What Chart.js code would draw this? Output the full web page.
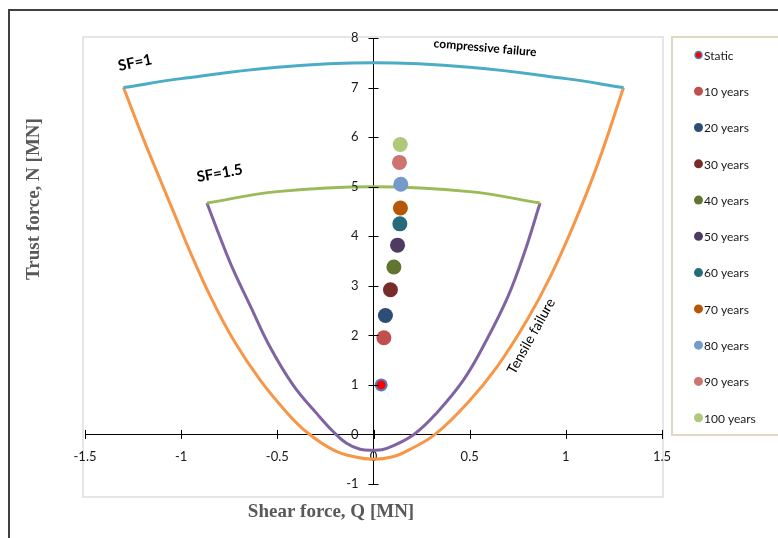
<!DOCTYPE html>
<html>
<head>
<meta charset="utf-8">
<script src="https://cdn.jsdelivr.net/npm/chart.js@4.4.1/dist/chart.umd.min.js"></script>
<style>
  html, body { margin: 0; padding: 0; background: #fff; overflow: hidden; }
  #wrap { width: 778px; height: 538px; }
</style>
</head>
<body>
<div id="wrap"><canvas id="chart" width="778" height="538"></canvas></div>
<script>
// Internal forces over time (shear Q, thrust N)
const seriesLabels = ['Static', '10 years', '20 years', '30 years', '40 years', '50 years',
                      '60 years', '70 years', '80 years', '90 years', '100 years'];
const seriesColors = ['#FF0000', '#C0504D', '#2C4D75', '#772C2A', '#5F7530', '#4D3B62',
                      '#276A7C', '#B65708', '#729ACA', '#CD7371', '#AFC97A'];
const shearQ  = [0.04, 0.054, 0.062, 0.088, 0.106, 0.125, 0.137, 0.14, 0.142, 0.135, 0.139];
const thrustN = [1.0, 1.95, 2.40, 2.92, 3.38, 3.82, 4.25, 4.57, 5.05, 5.49, 5.85];

// SF=1 envelope
const sf1CompQ = [-1.3, -1.0, -0.5, 0, 0.5, 1.0, 1.3];
const sf1CompN = [7.0, 7.18, 7.41, 7.5, 7.41, 7.18, 7.0];
const sf1TensQ = [-1.3, -1.2, -1.11, -1.03, -0.955, -0.85, -0.73, -0.59, -0.45, -0.345, -0.21, -0.1, 0,
                  0.1, 0.19, 0.32, 0.49, 0.645, 0.8, 0.92, 1.045, 1.167, 1.3];
const sf1TensN = [7.0, 6.0, 5.15, 4.4, 3.7, 2.8, 1.92, 1.1, 0.44, 0.04, -0.31, -0.45, -0.5,
                  -0.45, -0.3, 0, 0.64, 1.38, 2.32, 3.19, 4.27, 5.47, 7.0];

// SF=1.5 envelope
const sf15CompQ = [-0.866, -0.5, 0, 0.5, 0.866];
const sf15CompN = [4.67, 4.9, 5.0, 4.9, 4.67];
const sf15TensQ = [-0.866, -0.8, -0.73, -0.64, -0.54, -0.415, -0.29, -0.21, -0.14, -0.07, 0,
                   0.07, 0.21, 0.33, 0.47, 0.59, 0.7, 0.784, 0.866];
const sf15TensN = [4.67, 4.0, 3.33, 2.59, 1.78, 0.98, 0.4, 0.06, -0.18, -0.3, -0.32,
                   -0.28, 0, 0.44, 1.11, 1.92, 2.79, 3.66, 4.67];

const xTicks = [-1.5, -1, -0.5, 0, 0.5, 1, 1.5];
const yTicks = [-1, 0, 1, 2, 3, 4, 5, 6, 7, 8];

function toPoints(qs, ns) {
  return qs.map((q, i) => ({ x: q, y: ns[i] }));
}

function curve(label, qs, ns, color) {
  return {
    label: label,
    data: toPoints(qs, ns),
    showLine: true,
    borderColor: color,
    backgroundColor: color,
    borderWidth: 3,
    pointRadius: 0,
    pointHoverRadius: 0,
    tension: 0.4
  };
}

// one dataset per time step, drawn on top of the envelopes
const pointSets = seriesLabels.map((lab, i) => ({
  label: lab,
  data: [{ x: shearQ[i], y: thrustN[i] }],
  backgroundColor: seriesColors[i],
  borderColor: i === 0 ? '#4F81BD' : seriesColors[i],
  borderWidth: i === 0 ? 2 : 0,
  pointRadius: i === 0 ? 5.5 : 7.5
}));

const curveSets = [
  curve('SF=1 compressive', sf1CompQ, sf1CompN, '#4BACC6'),
  curve('SF=1 tensile', sf1TensQ, sf1TensN, '#F79646'),
  curve('SF=1.5 compressive', sf15CompQ, sf15CompN, '#9BBB59'),
  curve('SF=1.5 tensile', sf15TensQ, sf15TensN, '#8064A2')
];

const notes = [
  { text: 'SF=1', q: -1.24, n: 7.5, angle: -12, font: 'bold 15px Lato' },
  { text: 'SF=1.5', q: -0.8, n: 5.27, angle: -10, font: 'bold 15px Lato' },
  { text: 'compressive failure', q: 0.58, n: 7.8, angle: 5, font: 'bold 12px Lato' },
  { text: 'Tensile failure', q: 0.82, n: 1.98, angle: -61, font: '14px Lato' }
];

const decor = {
  id: 'decor',
  beforeDraw(chart) {
    const ctx = chart.ctx;
    const a = chart.chartArea;
    ctx.save();
    ctx.fillStyle = '#fff';
    ctx.fillRect(0, 0, chart.width, chart.height);
    // outer frame
    ctx.strokeStyle = '#404040';
    ctx.lineWidth = 2;
    ctx.strokeRect(9, 10, 900, 700);
    // plot area frame
    ctx.strokeStyle = '#e6e6e6';
    ctx.strokeRect(a.left - 2, a.top - 1, a.right - a.left + 3, a.bottom - a.top + 14);
    // legend frame
    ctx.strokeStyle = '#DDD9C3';
    ctx.strokeRect(672, 37, 200, 398);
    ctx.restore();
  },
  afterDraw(chart) {
    const ctx = chart.ctx;
    const xs = chart.scales.x, ys = chart.scales.y;
    const x0 = xs.getPixelForValue(0), y0 = ys.getPixelForValue(0);
    ctx.save();
    // cross tick marks
    ctx.strokeStyle = '#000';
    ctx.lineWidth = 1;
    ctx.beginPath();
    xTicks.forEach(v => {
      const px = Math.round(xs.getPixelForValue(v)) + 0.5;
      ctx.moveTo(px, y0 - 4.5);
      ctx.lineTo(px, y0 + 4.5);
    });
    yTicks.forEach(v => {
      const py = Math.round(ys.getPixelForValue(v)) + 0.5;
      ctx.moveTo(x0 - 5, py);
      ctx.lineTo(x0 + 5, py);
    });
    ctx.stroke();

    // y tick labels, left of the centred axis
    ctx.fillStyle = '#1a1a1a';
    ctx.font = '13px Lato';
    ctx.textAlign = 'right';
    ctx.textBaseline = 'middle';
    yTicks.forEach(v => {
      ctx.fillText(String(v), x0 - 15, ys.getPixelForValue(v));
    });

    // annotations
    ctx.fillStyle = '#000';
    ctx.textAlign = 'center';
    notes.forEach(nt => {
      ctx.save();
      ctx.translate(xs.getPixelForValue(nt.q), ys.getPixelForValue(nt.n));
      ctx.rotate(nt.angle * Math.PI / 180);
      ctx.font = nt.font;
      ctx.fillText(nt.text, 0, 0);
      ctx.restore();
    });

    // axis titles
    ctx.fillStyle = '#595959';
    ctx.font = 'bold 19px "Liberation Serif"';
    ctx.fillText('Shear force, Q [MN]', 331, 512);
    ctx.save();
    ctx.translate(34, 199);
    ctx.rotate(-Math.PI / 2);
    ctx.fillText('Trust force, N [MN]', 0, 0);
    ctx.restore();

    // legend
    ctx.textAlign = 'left';
    ctx.font = '12px Lato';
    pointSets.forEach((ds, i) => {
      const cy = 55 + i * 36.27;
      ctx.beginPath();
      ctx.arc(698.5, cy, i === 0 ? 3.5 : 4.5, 0, Math.PI * 2);
      ctx.fillStyle = ds.backgroundColor;
      ctx.fill();
      if (i === 0) {
        ctx.lineWidth = 1.5;
        ctx.strokeStyle = ds.borderColor;
        ctx.stroke();
      }
      ctx.fillStyle = '#1a1a1a';
      ctx.fillText(ds.label, 704, cy + 1);
    });
    ctx.restore();
  }
};

const ctx = document.getElementById('chart').getContext('2d');
const chart = new Chart(ctx, {
  type: 'scatter',
  data: { datasets: pointSets.concat(curveSets) },
  options: {
    responsive: false,
    animation: false,
    layout: { padding: { left: 85, right: 116, top: 38, bottom: 54 } },
    plugins: {
      legend: { display: false },
      tooltip: { enabled: false }
    },
    scales: {
      x: {
        type: 'linear',
        min: -1.5,
        max: 1.5,
        position: { y: 0 },
        afterBuildTicks: s => { s.ticks = xTicks.map(v => ({ value: v })); },
        grid: { display: false, drawTicks: false },
        border: { display: true, color: '#000', width: 1 },
        ticks: {
          padding: 15,
          color: '#1a1a1a',
          font: { family: 'Lato', size: 13 },
          maxRotation: 0,
          callback: v => String(v)
        }
      },
      y: {
        type: 'linear',
        min: -1,
        max: 8,
        position: { x: 0 },
        afterBuildTicks: s => { s.ticks = yTicks.map(v => ({ value: v })); },
        grid: { display: false, drawTicks: false },
        border: { display: true, color: '#000', width: 1 },
        ticks: { display: false }
      }
    }
  },
  plugins: [decor]
});
</script>
</body>
</html>
